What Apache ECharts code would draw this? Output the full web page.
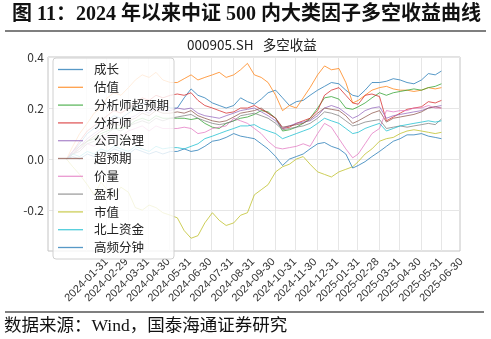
<!DOCTYPE html>
<html><head><meta charset="utf-8">
<script src="https://cdn.jsdelivr.net/npm/echarts@6/dist/echarts.min.js"></script>
<style>html,body{margin:0;padding:0;background:#fff}#c{width:491px;height:339px}</style>
</head><body><div id="c"></div>
<script>
// ---- data ----
const dates = ['2024-01-02','2024-01-11','2024-01-21','2024-02-01','2024-02-11','2024-02-21','2024-03-01','2024-03-11','2024-03-21','2024-04-01','2024-04-11','2024-04-21','2024-05-01','2024-05-11','2024-05-21','2024-06-01','2024-06-11','2024-06-21','2024-07-01','2024-07-11','2024-07-21','2024-08-01','2024-08-11','2024-08-21','2024-09-01','2024-09-11','2024-09-21','2024-10-01','2024-10-11','2024-10-21','2024-11-01','2024-11-11','2024-11-21','2024-12-01','2024-12-11','2024-12-21','2025-01-01','2025-01-11','2025-01-21','2025-02-01','2025-02-11','2025-02-21','2025-03-01','2025-03-11','2025-03-21','2025-04-01','2025-04-11','2025-04-21','2025-05-01','2025-05-11','2025-05-21','2025-06-01','2025-06-11','2025-06-21','2025-06-30'];
const tickLabels = ['2024-01-31','2024-02-29','2024-03-31','2024-04-30','2024-05-31','2024-06-30','2024-07-31','2024-08-31','2024-09-30','2024-10-31','2024-11-30','2024-12-31','2025-01-31','2025-02-28','2025-03-31','2025-04-30','2025-05-31','2025-06-30'];
const yTicks = [-0.2, 0.0, 0.2, 0.4];
const seriesNames = ['成长','估值','分析师超预期','分析师','公司治理','超预期','价量','盈利','市值','北上资金','高频分钟'];
const growth = [0,0.03,0.06,0.1,0.12,0.14,0.15,0.17,0.16,0.18,0.2,0.22,0.21,0.23,0.21,0.2,
 0.2,0.24,0.275,0.25,0.24,0.22,0.21,0.2,0.21,0.24, 0.225,0.215,0.235,0.26,0.27,0.24,0.21,0.225,0.23,0.25, 0.27,0.285,0.3,0.295,0.27,0.25,0.245,0.27,0.3,0.3, 0.305,0.315,0.31,0.3,0.295,0.31,0.335,0.33,0.345];
const valuation = [0,0.05,0.1,0.14,0.18,0.2,0.24,0.26,0.25,0.28,0.31,0.33,0.32,0.34,0.31,0.3,
 0.3,0.315,0.33,0.31,0.32,0.33,0.34,0.32,0.33,0.35, 0.375,0.33,0.32,0.3,0.25,0.19,0.21,0.2,0.24,0.28, 0.33,0.365,0.35,0.355,0.3,0.22,0.23,0.25,0.27,0.28, 0.285,0.275,0.27,0.27,0.265,0.27,0.28,0.275,0.28];
const analystSurprise = [0,0.02,0.04,0.07,0.08,0.1,0.11,0.12,0.12,0.13,0.15,0.16,0.15,0.17,0.16,0.16,
 0.16,0.16,0.155,0.16,0.14,0.125,0.12,0.14,0.15,0.16, 0.165,0.175,0.19,0.185,0.16,0.11,0.115,0.125,0.14,0.16, 0.2,0.24,0.245,0.235,0.2,0.195,0.205,0.22,0.24,0.26, 0.25,0.26,0.265,0.27,0.275,0.27,0.28,0.285,0.295];
const analyst = [0,0.03,0.07,0.11,0.13,0.15,0.17,0.19,0.18,0.2,0.22,0.24,0.23,0.25,0.24,0.25,
 0.255,0.25,0.26,0.23,0.21,0.2,0.19,0.18,0.185,0.2, 0.2,0.21,0.195,0.18,0.16,0.12,0.125,0.14,0.15,0.16, 0.19,0.25,0.27,0.28,0.25,0.22,0.215,0.25,0.255,0.245, 0.15,0.165,0.18,0.195,0.2,0.205,0.225,0.22,0.23];
const governance = [0,0.03,0.05,0.08,0.1,0.12,0.13,0.15,0.14,0.16,0.17,0.19,0.18,0.2,0.19,0.19,
 0.2,0.195,0.2,0.18,0.17,0.165,0.16,0.17,0.18,0.19, 0.195,0.2,0.185,0.17,0.15,0.12,0.13,0.14,0.145,0.15, 0.17,0.2,0.21,0.2,0.18,0.16,0.17,0.19,0.2,0.205, 0.16,0.17,0.175,0.18,0.185,0.19,0.2,0.205,0.21];
const surprise = [0,0.02,0.05,0.07,0.09,0.11,0.12,0.14,0.13,0.15,0.16,0.18,0.17,0.19,0.18,0.18,
 0.185,0.18,0.19,0.17,0.16,0.15,0.145,0.15,0.165,0.18, 0.185,0.19,0.2,0.18,0.16,0.125,0.13,0.135,0.14,0.155, 0.18,0.2,0.195,0.19,0.17,0.14,0.15,0.165,0.18,0.19, 0.145,0.16,0.165,0.17,0.175,0.185,0.2,0.205,0.2];
const priceVolume = [0,0.02,0.04,0.06,0.05,0.07,0.09,0.1,0.09,0.11,0.12,0.13,0.11,0.13,0.12,0.12,
 0.12,0.125,0.12,0.1,0.105,0.12,0.125,0.13,0.16,0.15, 0.14,0.12,0.1,0.07,0.045,0.04,0.045,0.05,0.06,0.05, 0.1,0.14,0.125,0.08,0.04,0.005,0.02,0.06,0.1,0.12, 0.19,0.185,0.19,0.19,0.2,0.2,0.21,0.2,0.2];
const profit = [0,0.02,0.03,0.06,0.07,0.09,0.1,0.12,0.11,0.13,0.14,0.15,0.14,0.16,0.15,0.16,
 0.165,0.17,0.175,0.16,0.15,0.14,0.135,0.14,0.15,0.17, 0.175,0.18,0.17,0.16,0.14,0.115,0.12,0.125,0.13,0.14, 0.16,0.185,0.18,0.17,0.15,0.13,0.135,0.145,0.15,0.155, 0.12,0.125,0.13,0.125,0.13,0.135,0.14,0.135,0.157];
const size = [0,-0.03,-0.06,-0.1,-0.14,-0.09,-0.12,-0.15,-0.11,-0.13,-0.19,-0.2,-0.18,-0.19,-0.21,-0.22,
 -0.23,-0.28,-0.31,-0.3,-0.25,-0.21,-0.24,-0.26,-0.25,-0.22, -0.21,-0.14,-0.12,-0.1,-0.05,-0.03,-0.02,0.0,0.01,-0.02, -0.05,-0.06,-0.07,-0.05,-0.04,-0.03,-0.01,0.02,0.04,0.07, 0.08,0.085,0.1,0.11,0.115,0.11,0.105,0.1,0.105];
const northbound = [0,0.02,0.01,0.03,0.02,0.04,0.03,0.05,0.04,0.03,0.05,0.04,0.03,0.05,0.04,0.045,
 0.045,0.04,0.05,0.06,0.08,0.09,0.1,0.11,0.12,0.13, 0.13,0.135,0.12,0.11,0.1,0.08,0.09,0.1,0.11,0.12, 0.14,0.16,0.15,0.14,0.12,0.1,0.105,0.12,0.13,0.14, 0.11,0.12,0.13,0.135,0.14,0.145,0.15,0.145,0.15];
const highFreq = [0,0.01,0.0,0.02,0.01,0.03,0.02,0.04,0.03,0.02,0.04,0.03,0.02,0.03,0.02,0.03,
 0.03,0.04,0.03,0.035,0.05,0.07,0.075,0.085,0.1,0.09, 0.085,0.08,0.06,0.04,0.01,-0.025,0.0,0.01,0.02,0.04, 0.06,0.065,0.05,0.04,0.02,-0.035,-0.025,-0.01,0.01,0.03, 0.05,0.07,0.08,0.095,0.095,0.1,0.09,0.085,0.08];
const seriesValues = [growth, valuation, analystSurprise, analyst, governance, surprise, priceVolume, profit, size, northbound, highFreq];
const colors = ['#1f77b4','#ff7f0e','#2ca02c','#d62728','#9467bd','#8c564b','#e377c2','#7f7f7f','#bcbd22','#17becf','#1f77b4'];

// ---- daily category axis with 5% margins ----
const cats = [];
for (let t = Date.UTC(2023, 11, 6); t <= Date.UTC(2025, 6, 27); t += 86400000) {
  cats.push(new Date(t).toISOString().slice(0, 10));
}
const isTick = (idx, val) => tickLabels.indexOf(val) >= 0;

const chart = echarts.init(document.getElementById('c'), null, {renderer: 'canvas'});
const cjk = '"Noto Sans CJK SC", "Noto Sans", sans-serif';
const serif = '"Liberation Serif", "Noto Sans CJK SC", serif';
chart.setOption({
  animation: false,
  color: colors,
  title: [
    {text: '图 11：2024 年以来中证 500 内大类因子多空收益曲线', left: 12, top: 5, padding: 0,
     textStyle: {fontSize: 20, fontWeight: 'bold', color: '#111', fontFamily: serif}},
    {text: '000905.SH   多空收益', left: 187, top: 38, padding: 0,
     textStyle: {fontSize: 13.5, fontWeight: 'normal', color: '#222', fontFamily: cjk}},
    {text: '数据来源：Wind，国泰海通证券研究', left: 4, top: 318, padding: 0,
     textStyle: {fontSize: 17.5, fontWeight: 'normal', color: '#111', fontFamily: serif}}
  ],
  graphic: [
    {type: 'line', shape: {x1: 5, y1: 31, x2: 486, y2: 31}, style: {stroke: '#555', lineWidth: 1.5}, silent: true},
    {type: 'line', shape: {x1: 5, y1: 312, x2: 484, y2: 312}, style: {stroke: '#555', lineWidth: 1.5}, silent: true}
  ],
  grid: {left: 48, right: 31, top: 57, bottom: 88, show: true, borderColor: '#c4c4c4', borderWidth: 1, backgroundColor: 'transparent'},
  legend: {
    orient: 'vertical', left: 53, top: 58, padding: 5, itemGap: 4.8, itemWidth: 25, itemHeight: 1.3,
    icon: 'rect',
    backgroundColor: 'rgba(255,255,255,0.82)', borderColor: '#d0d0d0', borderWidth: 1, borderRadius: 3,
    textStyle: {fontSize: 12.5, lineHeight: 13, color: '#222', fontFamily: cjk, padding: [0, 0, 0, 6]},
    data: seriesNames
  },
  xAxis: {
    type: 'category', data: cats, boundaryGap: false,
    axisLine: {show: false}, axisTick: {show: false},
    splitLine: {show: true, interval: isTick, lineStyle: {color: '#e6e6e6', width: 1}},
    axisLabel: {interval: isTick, rotate: 45, align: 'center', verticalAlign: 'middle', margin: 29,
      fontSize: 11, color: '#333', fontFamily: '"Liberation Sans", Arial, sans-serif'}
  },
  yAxis: {
    type: 'value', min: -0.36, max: 0.4, interval: 0.04,
    axisLine: {show: false}, axisTick: {show: false},
    splitLine: {show: true, lineStyle: {color: ['transparent','transparent','transparent','transparent','#e6e6e6'], width: 1}},
    axisLabel: {margin: 4, fontSize: 12, color: '#333', fontFamily: cjk,
      formatter: function (v) {
        const r = Math.round(v * 10) / 10;
        for (const t of yTicks) { if (Math.abs(v - t) < 1e-6) return (r === 0 ? 0 : r).toFixed(1); }
        return '';
      }}
  },
  series: seriesNames.map((name, s) => ({
    name: name, type: 'line', symbol: 'none', smooth: false,
    lineStyle: {width: 1, opacity: 0.75, color: colors[s]},
    itemStyle: {color: colors[s], opacity: 0.75},
    emphasis: {disabled: true},
    data: dates.map((d, i) => [cats.indexOf(d), seriesValues[s][i]])
  }))
});
</script></body></html>
